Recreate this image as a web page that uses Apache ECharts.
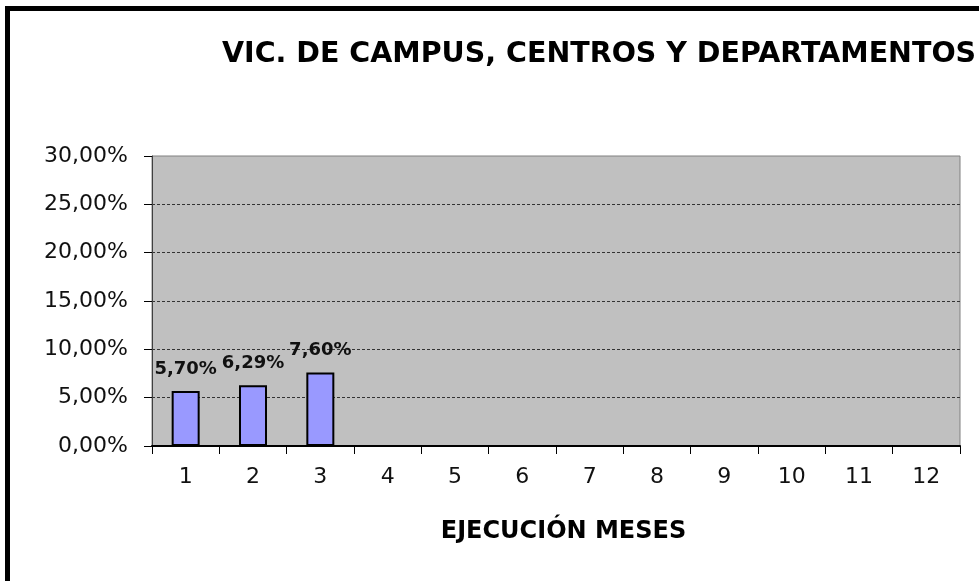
<!DOCTYPE html>
<html>
<head>
<meta charset="utf-8">
<title>VIC. DE CAMPUS, CENTROS Y DEPARTAMENTOS</title>
<script src="https://cdn.jsdelivr.net/npm/echarts@6/dist/echarts.min.js"></script>
<style>
  html, body { margin: 0; padding: 0; background: #fff; }
  #chart { width: 979px; height: 581px; }
</style>
</head>
<body>
<div id="chart"></div>
<script>
const months = ['1', '2', '3', '4', '5', '6', '7', '8', '9', '10', '11', '12'];
const ejecucion = [0.057, 0.0629, 0.076, null, null, null, null, null, null, null, null, null];
const yTicks = [0, 0.05, 0.10, 0.15, 0.20, 0.25, 0.30];

const pct = v => (v * 100).toFixed(2).replace('.', ',') + '%';

const chart = echarts.init(document.getElementById('chart'));

const option = {
  backgroundColor: '#fff',
  textStyle: { fontFamily: 'DejaVu Sans' },
  title: {
    text: 'VIC. DE CAMPUS, CENTROS Y DEPARTAMENTOS',
    left: 222,
    top: 40,
    padding: 0,
    textStyle: { fontFamily: 'DejaVu Sans', fontSize: 28.5, fontWeight: 'bold', color: '#000' }
  },
  graphic: [
    {
      type: 'rect',
      shape: { x: 7.5, y: 8.5, width: 1200, height: 1200 },
      style: { fill: 'none', stroke: '#000', lineWidth: 5 },
      silent: true
    }
  ],
  grid: {
    left: 152,
    top: 156,
    right: 19,
    bottom: 135,
    show: true,
    backgroundColor: '#C0C0C0',
    borderColor: '#808080',
    borderWidth: 1
  },
  xAxis: {
    type: 'category',
    data: months,
    name: 'EJECUCIÓN MESES',
    nameLocation: 'middle',
    nameGap: 74,
    nameTextStyle: { fontSize: 24, fontWeight: 'bold', color: '#000', padding: [0, 0, 0, 15] },
    axisLine: { lineStyle: { color: '#000', width: 2 } },
    axisTick: { show: true, alignWithLabel: false, length: 8, lineStyle: { color: '#000', width: 1 } },
    axisLabel: { fontSize: 22, color: '#111', margin: 20 },
    splitLine: { show: false }
  },
  yAxis: {
    type: 'value',
    min: yTicks[0],
    max: yTicks[yTicks.length - 1],
    interval: 0.05,
    axisLine: { show: true, lineStyle: { color: '#404040', width: 1 } },
    axisTick: { show: true, length: 8, lineStyle: { color: '#000' } },
    axisLabel: { fontSize: 22, color: '#111', margin: 24, formatter: pct },
    splitLine: {
      show: true,
      showMaxLine: false,
      lineStyle: { color: '#333', type: [3, 2], width: 1 }
    }
  },
  series: [
    {
      name: 'Ejecución',
      type: 'bar',
      data: ejecucion,
      barWidth: 28,
      itemStyle: { color: '#9999FF', borderColor: '#000', borderWidth: 2 },
      label: {
        show: true,
        position: 'top',
        distance: 13,
        fontSize: 18,
        fontWeight: 'bold',
        color: '#111',
        formatter: p => pct(p.value)
      }
    }
  ]
};

chart.setOption(option);

window.addEventListener('resize', () => {
  chart.resize();
});
</script>
</body>
</html>
